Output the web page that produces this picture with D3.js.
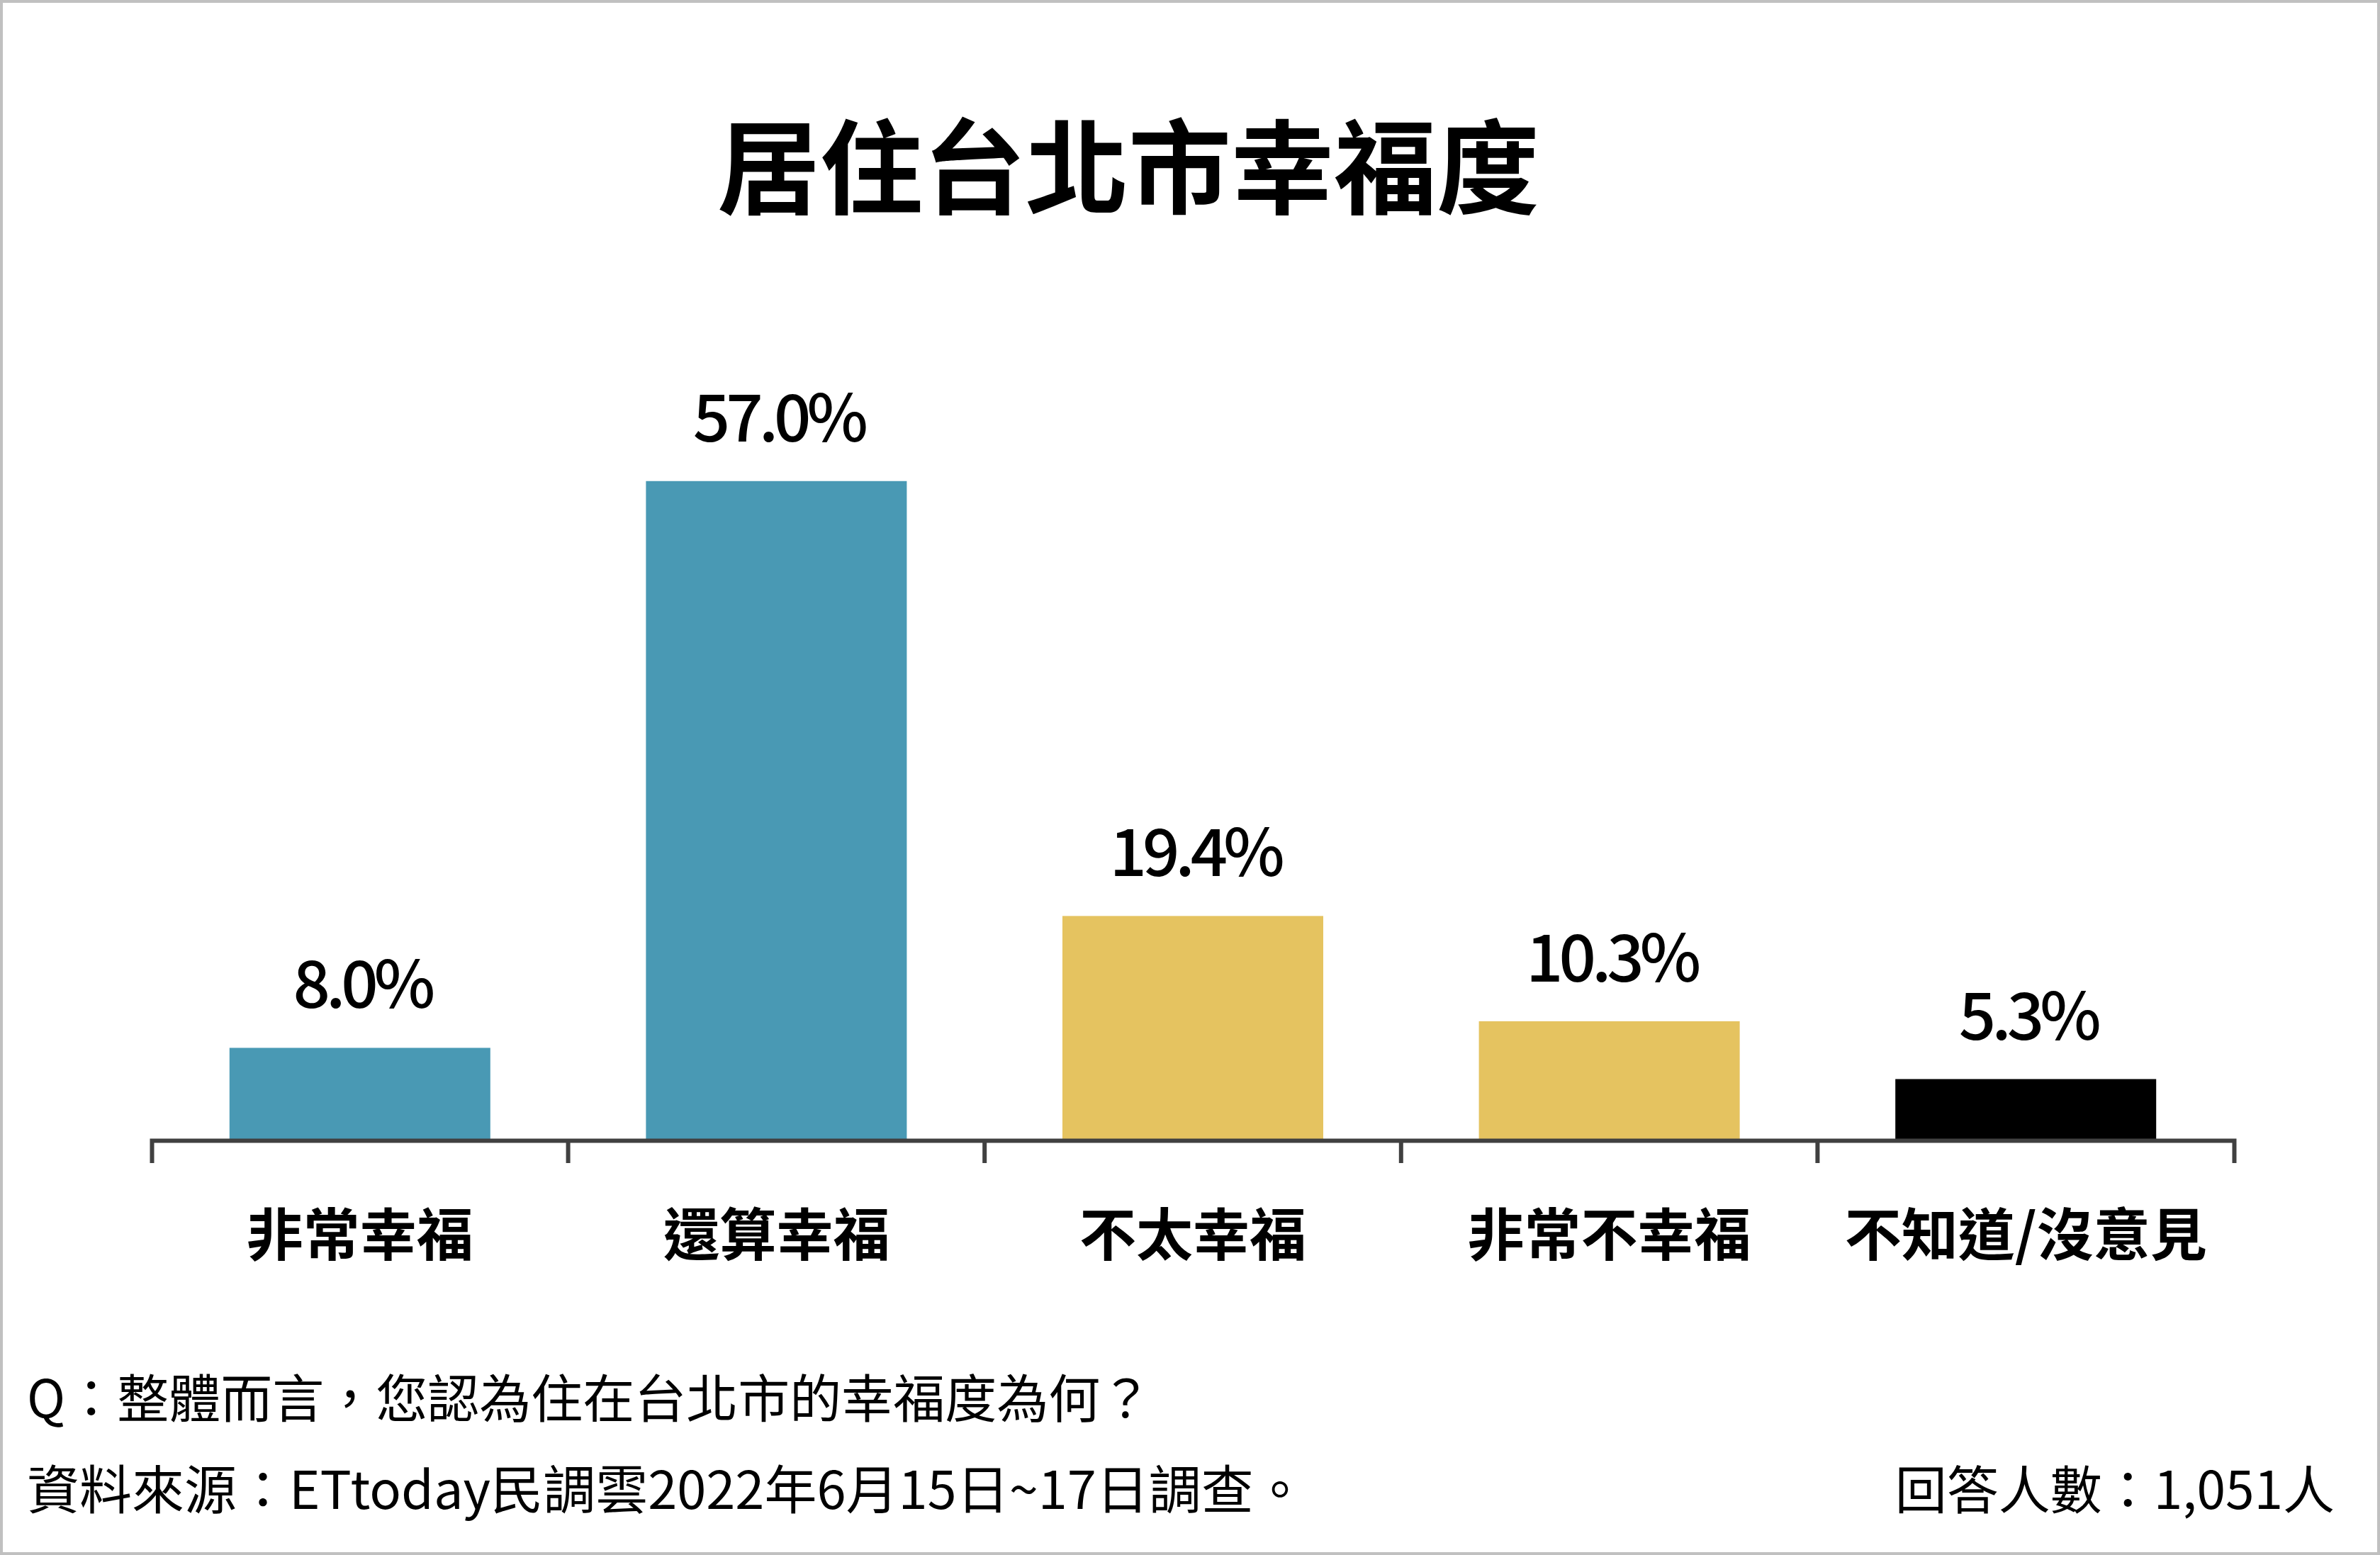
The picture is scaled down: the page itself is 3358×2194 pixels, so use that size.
<!DOCTYPE html>
<html>
<head>
<meta charset="utf-8">
<script src="https://cdn.jsdelivr.net/npm/d3@7"></script>
<style>
  html, body { margin: 0; padding: 0; background: #fff; }
  svg { display: block; }
  text { font-family: "Noto Sans CJK TC", "Noto Sans CJK SC", "Noto Sans", sans-serif; fill: #000; }
</style>
</head>
<body>
<script>
const categories = ["非常幸福", "還算幸福", "不太幸福", "非常不幸福", "不知道/沒意見"];
const values = [8.0, 57.0, 19.4, 10.3, 5.3];
const valueLabels = ["8.0%", "57.0%", "19.4%", "10.3%", "5.3%"];
const barColors = ["#4999b4", "#4999b4", "#e5c360", "#e5c360", "#000000"];
const titleText = "居住台北市幸福度";
const questionText = "Q：整體而言，您認為住在台北市的幸福度為何？";
const sourceText = "資料來源：ETtoday民調雲2022年6月15日~17日調查。";
const sampleText = "回答人數：1,051人";

const W = 3358, H = 2194;
const axisY = 1609;

const svg = d3.select("body").append("svg")
  .attr("width", W).attr("height", H);

svg.append("rect").attr("x", 0).attr("y", 0).attr("width", W).attr("height", H).attr("fill", "#fff");
svg.append("rect").attr("x", 2).attr("y", 2).attr("width", W - 4).attr("height", H - 4)
  .attr("fill", "none").attr("stroke", "#c0c0c0").attr("stroke-width", 4);

const pIn = 0.3737;
const x = d3.scaleBand().domain(categories).range([214, 3152])
  .paddingInner(pIn).paddingOuter(pIn / 2);
const y = d3.scaleLinear().domain([0, 60]).range([axisY, axisY - 60 * 16.32]);

// title
svg.append("text").attr("x", 1592).attr("y", 291)
  .attr("text-anchor", "middle").attr("font-size", 145).attr("font-weight", 700)
  .text(titleText);

// bars
svg.append("g").selectAll("rect").data(values).join("rect")
  .attr("x", (d, i) => x(categories[i]))
  .attr("width", x.bandwidth())
  .attr("y", d => y(d))
  .attr("height", d => y(0) - y(d))
  .attr("fill", (d, i) => barColors[i]);

// value labels
svg.append("g").selectAll("text").data(values).join("text")
  .attr("x", (d, i) => x(categories[i]) + x.bandwidth() / 2 + 3)
  .attr("y", d => y(d) - 56)
  .attr("text-anchor", "middle").attr("font-size", 92).attr("font-weight", 500)
  .attr("letter-spacing", -6)
  .text((d, i) => valueLabels[i]);

// axis
const axis = d3.axisBottom(x).tickSize(0).tickSizeOuter(32).tickPadding(0);
const gAxis = svg.append("g").attr("transform", `translate(0,${axisY})`).call(axis);
gAxis.select(".domain").attr("stroke", "#404040").attr("stroke-width", 6).attr("fill", "none");
gAxis.selectAll(".tick text")
  .attr("y", 162).attr("dy", 0)
  .attr("font-size", 80).attr("font-weight", 700)
  .attr("font-family", '"Noto Sans CJK TC", "Noto Sans CJK SC", sans-serif')
  .attr("fill", "#000");

// inner boundary ticks
const gap = x.step() * pIn / 2;
svg.append("g").selectAll("line").data(categories.slice(1)).join("line")
  .attr("x1", d => x(d) - gap).attr("x2", d => x(d) - gap)
  .attr("y1", axisY).attr("y2", axisY + 32)
  .attr("stroke", "#404040").attr("stroke-width", 6);

// footer
svg.append("text").attr("x", 38).attr("y", 2000).attr("font-size", 73).text(questionText);
svg.append("text").attr("x", 38).attr("y", 2129).attr("font-size", 74).text(sourceText);
svg.append("text").attr("x", 3294).attr("y", 2129).attr("font-size", 73)
  .attr("text-anchor", "end").text(sampleText);
</script>
</body>
</html>
